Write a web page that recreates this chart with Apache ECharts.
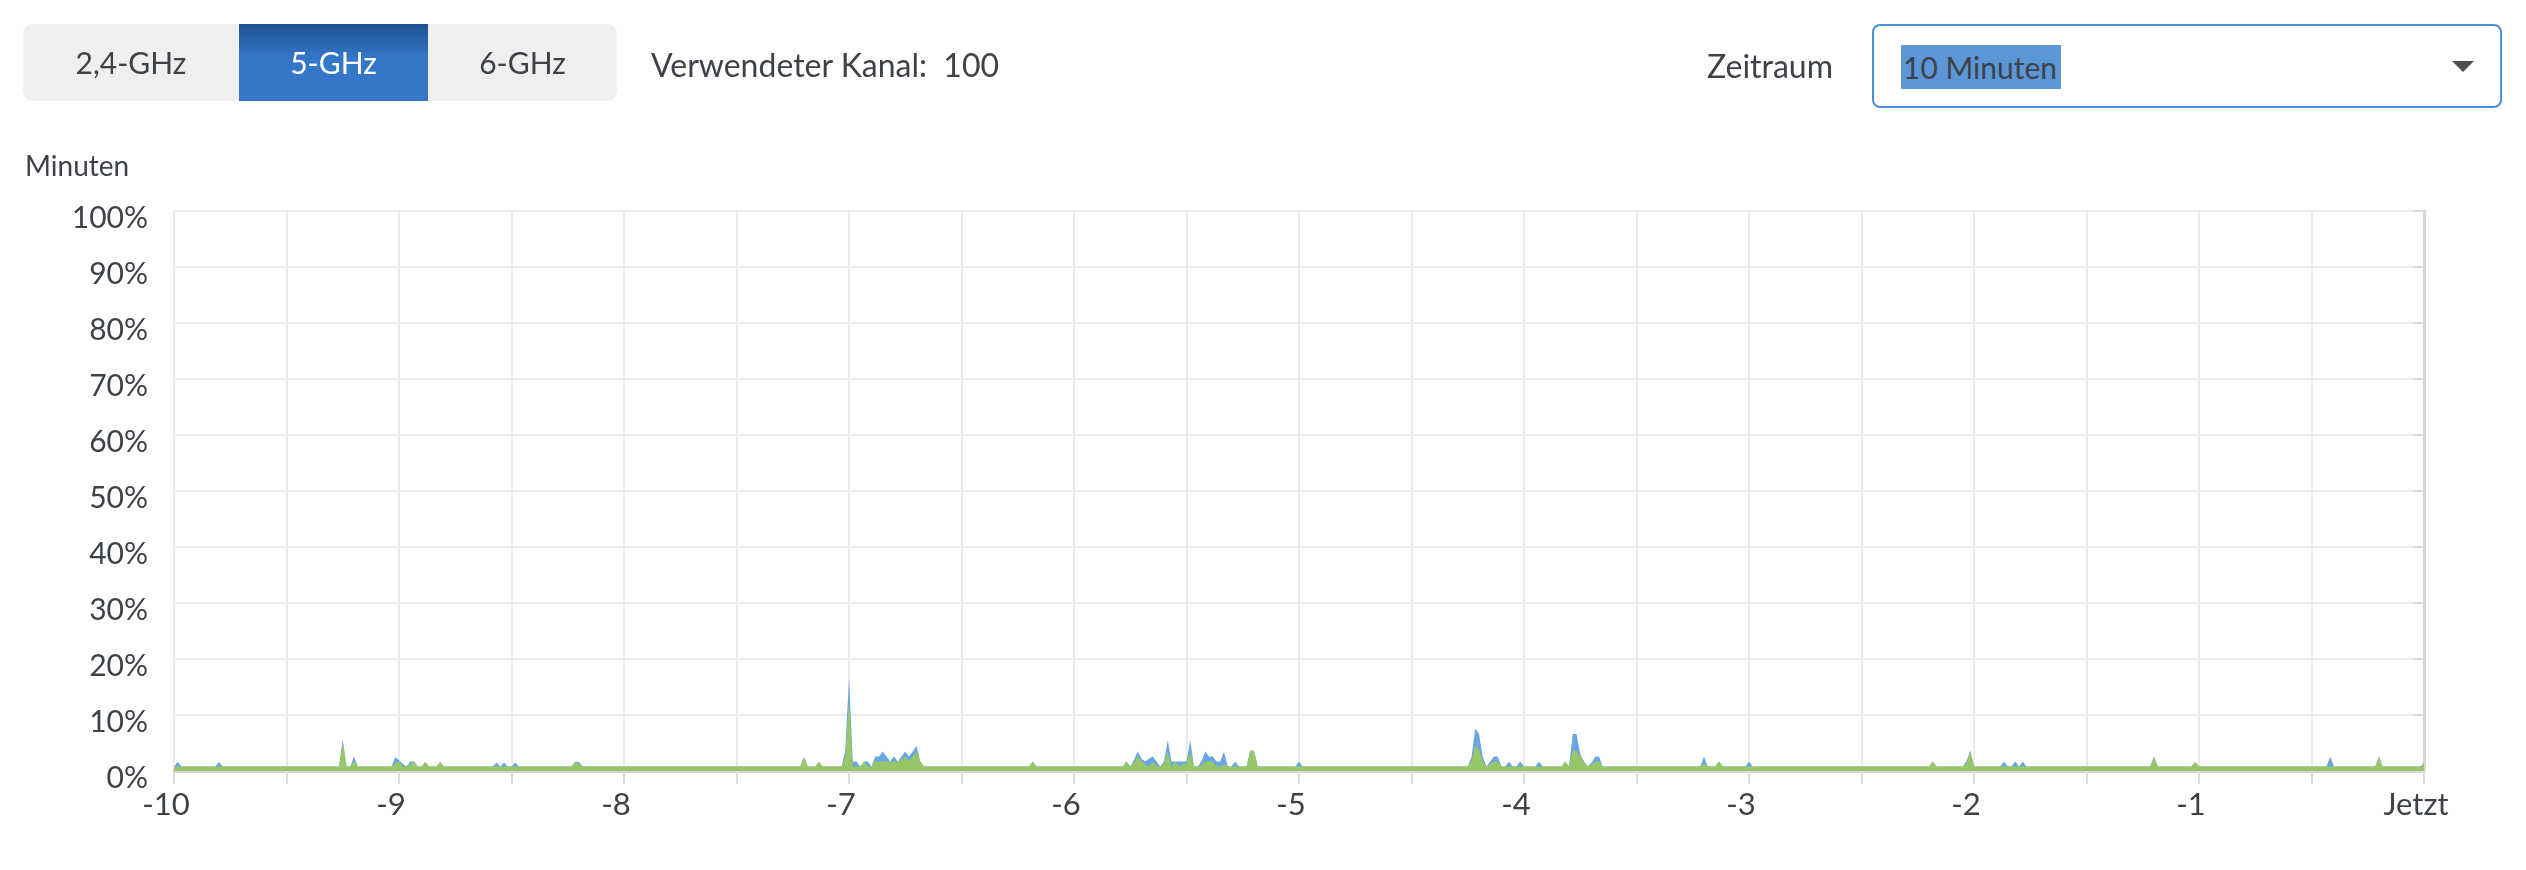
<!DOCTYPE html>
<html lang="de">
<head>
<meta charset="utf-8">
<title>Kanalauslastung 5-GHz</title>
<script src="https://cdn.jsdelivr.net/npm/echarts@6/dist/echarts.min.js"></script>
<style>
  html, body { margin: 0; padding: 0; background: #ffffff; }
  body { width: 2526px; height: 870px; position: relative; overflow: hidden; font-family: Lato, "Noto Sans", sans-serif; color: #3d4248; }
  #chart { position: absolute; left: 0; top: 0; width: 2526px; height: 870px; }
  .ui { position: absolute; z-index: 5; }
  #bands { left: 23px; top: 24px; width: 594px; height: 77px; background: #efefef; border-radius: 10px; overflow: hidden; display: flex; }
  #bands div { height: 77px; line-height: 77px; text-align: center; font-size: 30px; color: #3d4248; }
  #bands .sel { color: #ffffff; background: linear-gradient(#1f5190 0%, #2c69b5 28%, #3477c9 45%, #3477c9 100%); }
  #kanal { left: 651px; top: 45px; font-size: 32px; line-height: 40px; white-space: pre; }
  #zeitraum { right: 693px; top: 46px; font-size: 32px; line-height: 40px; text-align: right; }
  #select { left: 1872px; top: 24px; width: 626px; height: 80px; border: 2px solid #4a8fd9; border-radius: 8px; background: #fff; }
  #select .hl { position: absolute; left: 27px; top: 19px; height: 44px; line-height: 44px; padding: 0 4px 0 2px; background: #5b97d6; font-size: 30px; color: #3d4248; }
  #select .arrow { position: absolute; left: 578px; top: 35px; width: 0; height: 0; border-left: 11px solid transparent; border-right: 11px solid transparent; border-top: 11px solid #4a4f55; }
  #minuten { left: 25px; top: 146px; font-size: 28px; line-height: 38px; }
</style>
</head>
<body>
<div id="chart"></div>
<div class="ui" id="bands"><div style="width:216px">2,4-GHz</div><div class="sel" style="width:189px">5-GHz</div><div style="width:189px">6-GHz</div></div>
<div class="ui" id="kanal">Verwendeter Kanal:  100</div>
<div class="ui" id="zeitraum">Zeitraum</div>
<div class="ui" id="select"><span class="hl">10 Minuten</span><span class="arrow"></span></div>
<div class="ui" id="minuten">Minuten</div>
<script>
// Sample times (seconds before "Jetzt") of the polyline vertices
const sampleSec = [
  -600,-599,-598,-589,-588,-587,-556,-555,-554,-553,-552,-551,
  -542,-541,-540,-539,-538,-537,-536,-535,-534,-533,-532,-530,-529,-528,
  -515,-514,-513,-512,-511,-510,-509,-508,-494,-493,-492,-491,
  -433,-432,-431,-429,-428,-427,
  -422,-421,-420,-419,-418,-417,-416,-415,-414,-413,-412,-411,-410,-409,-408,-407,-406,-405,-404,-403,-402,-401,-400,
  -372,-371,-370,
  -347,-346,-345,-344,-343,-342,-341,-340,-339,-338,-337,-336,-335,-334,-333,-332,-331,-330,-329,-328,
  -327,-326,-325,-324,-323,-322,-321,-320,-319,-318,-317,-316,-314,-313,-312,-311,
  -301,-300,-299,
  -255,-254,-253,-252,-251,-250,-249,-248,-247,-246,-245,-244,-243,-242,-241,-240,-237,-236,-235,
  -230,-229,-228,-227,-226,-225,-224,-223,-222,-221,-220,-219,
  -193,-192,-191,-189,-188,-187,-181,-180,-179,
  -132,-131,-130,-123,-122,-121,-120,-113,-112,-111,-110,-109,-108,-107,-106,
  -73,-72,-71,-62,-61,-60,-26,-25,-24,-13,-12,-11,-1,0
];
// Blue area: total channel utilisation (%)
const totalPct = [
  0.8,1.6,0.8,0.8,1.6,0.8,0.8,5.6,0.8,0.8,2.6,0.8,
  0.8,2.5,1.9,1.3,0.8,1.7,1.7,0.8,0.8,1.6,0.8,0.8,1.6,0.8,
  0.8,1.5,0.8,1.5,0.8,0.8,1.5,0.8,0.8,1.7,1.6,0.8,
  0.8,2.5,0.8,0.8,1.6,0.8,
  0.8,3.6,16.6,1.7,1.7,0.8,1.7,1.7,0.8,2.6,2.6,3.5,2.6,1.7,2.6,1.7,2.6,3.5,2.6,3.5,4.5,1.7,0.8,
  0.8,1.7,0.8,
  0.8,1.7,0.8,2.0,3.5,2.2,1.7,2.2,2.6,1.7,0.8,1.7,5.5,1.7,1.7,1.7,1.7,1.7,5.5,0.8,
  0.8,1.7,3.5,2.6,2.6,1.7,1.7,3.5,0.8,0.8,1.7,0.8,0.8,3.6,3.6,0.8,
  0.8,1.7,0.8,
  0.8,2.5,7.6,6.6,2.5,0.8,1.7,2.6,2.6,0.8,0.8,1.7,0.8,0.8,1.7,0.8,0.8,1.7,0.8,
  0.8,1.7,0.8,6.6,6.6,3.0,1.7,0.8,1.5,2.6,2.6,0.8,
  0.8,2.6,0.8,0.8,1.7,0.8,0.8,1.7,0.8,
  0.8,1.7,0.8,0.8,1.8,3.6,0.8,0.8,1.7,0.8,0.8,1.7,0.8,1.7,0.8,
  0.8,2.6,0.8,0.8,1.6,0.8,0.8,2.6,0.8,0.8,2.6,0.8,0.8,1.4
];
// Green area: part of the utilisation (%)
const partPct = [
  0.8,0.8,0.8,0.8,0.8,0.8,0.8,5.3,0.8,0.8,1.8,0.8,
  0.8,1.3,1.8,0.8,0.8,1.2,1.7,0.8,0.8,1.6,0.8,0.8,1.6,0.8,
  0.8,0.8,0.8,0.8,0.8,0.8,0.8,0.8,0.8,1.6,1.3,0.8,
  0.8,2.5,0.8,0.8,1.6,0.8,
  0.8,2.6,12.5,0.8,0.8,0.8,1.7,0.8,0.8,1.7,1.7,1.7,1.7,1.7,1.7,1.7,2.0,2.6,1.8,2.6,3.5,1.7,0.8,
  0.8,1.7,0.8,
  0.8,1.7,0.8,1.5,2.6,1.7,1.2,0.8,1.7,0.8,0.8,1.2,3.5,0.8,1.7,0.8,1.2,1.2,3.5,0.8,
  0.8,1.0,1.7,1.7,1.7,0.8,0.8,1.2,0.8,0.8,0.8,0.8,0.8,3.6,3.6,0.8,
  0.8,0.8,0.8,
  0.8,1.8,4.5,3.8,1.7,0.8,1.2,1.7,1.7,0.8,0.8,0.8,0.8,0.8,0.8,0.8,0.8,0.8,0.8,
  0.8,1.7,0.8,3.6,3.6,2.6,1.7,0.8,1.2,1.7,1.7,0.8,
  0.8,1.4,0.8,0.8,1.7,0.8,0.8,0.8,0.8,
  0.8,1.7,0.8,0.8,1.3,3.6,0.8,0.8,0.8,0.8,0.8,0.8,0.8,0.8,0.8,
  0.8,2.6,0.8,0.8,1.6,0.8,0.8,0.8,0.8,0.8,2.6,0.8,0.8,1.4
];
const xMinMinutes = -10;
const xMaxMinutes = 0;
const xNowLabel = 'Jetzt';
const yTickStep = 10;

const textColor = '#3d4248';
const chart = echarts.init(document.getElementById('chart'), null, { renderer: 'canvas' });
const toPoints = vals => sampleSec.map((s, i) => [s / 60, vals[i]]);

chart.setOption({
  animation: false,
  textStyle: { fontFamily: 'Lato' },
  grid: { left: 174, right: 102, top: 211, bottom: 99, containLabel: false },
  xAxis: {
    type: 'value', min: xMinMinutes, max: xMaxMinutes, interval: 0.5,
    axisLine: { show: true, lineStyle: { color: '#d6d6d6', width: 3 } },
    axisTick: { show: true, length: 13, lineStyle: { color: '#dcdcdc', width: 2 } },
    splitLine: { show: true, lineStyle: { color: '#ebebeb', width: 2 } },
    axisLabel: {
      color: textColor, fontSize: 31, fontFamily: 'Lato', margin: 18,
      padding: [0, 16, 0, 0],
      formatter: v => Number.isInteger(v) ? (v === 0 ? xNowLabel : String(v)) : ''
    }
  },
  yAxis: [{
    type: 'value', min: 0, max: 100, interval: yTickStep, position: 'left',
    axisLine: { show: true, lineStyle: { color: '#d6d6d6', width: 3 } },
    axisTick: { show: true, length: 10, lineStyle: { color: '#dcdcdc', width: 2 } },
    splitLine: { show: true, lineStyle: { color: '#ebebeb', width: 2 } },
    axisLabel: { color: textColor, fontSize: 30, fontFamily: 'Lato', margin: 26, verticalAlign: 'top', lineHeight: 14, formatter: '{value}%' }
  }, {
    type: 'value', min: 0, max: 100, interval: yTickStep, position: 'right',
    axisLine: { show: true, lineStyle: { color: '#d6d6d6', width: 3 } },
    axisTick: { show: false }, axisLabel: { show: false }, splitLine: { show: false }
  }],
  series: [{
    name: 'Gesamt', type: 'line', yAxisIndex: 0, showSymbol: false, symbol: 'none',
    lineStyle: { width: 0, opacity: 0 },
    areaStyle: { color: '#6aa6e2', opacity: 1 },
    data: toPoints(totalPct), z: 2
  }, {
    name: 'Anteil', type: 'line', yAxisIndex: 0, showSymbol: false, symbol: 'none',
    lineStyle: { width: 0, opacity: 0 },
    areaStyle: { color: '#98c76a', opacity: 1 },
    data: toPoints(partPct), z: 3
  }]
});
</script>
</body>
</html>
